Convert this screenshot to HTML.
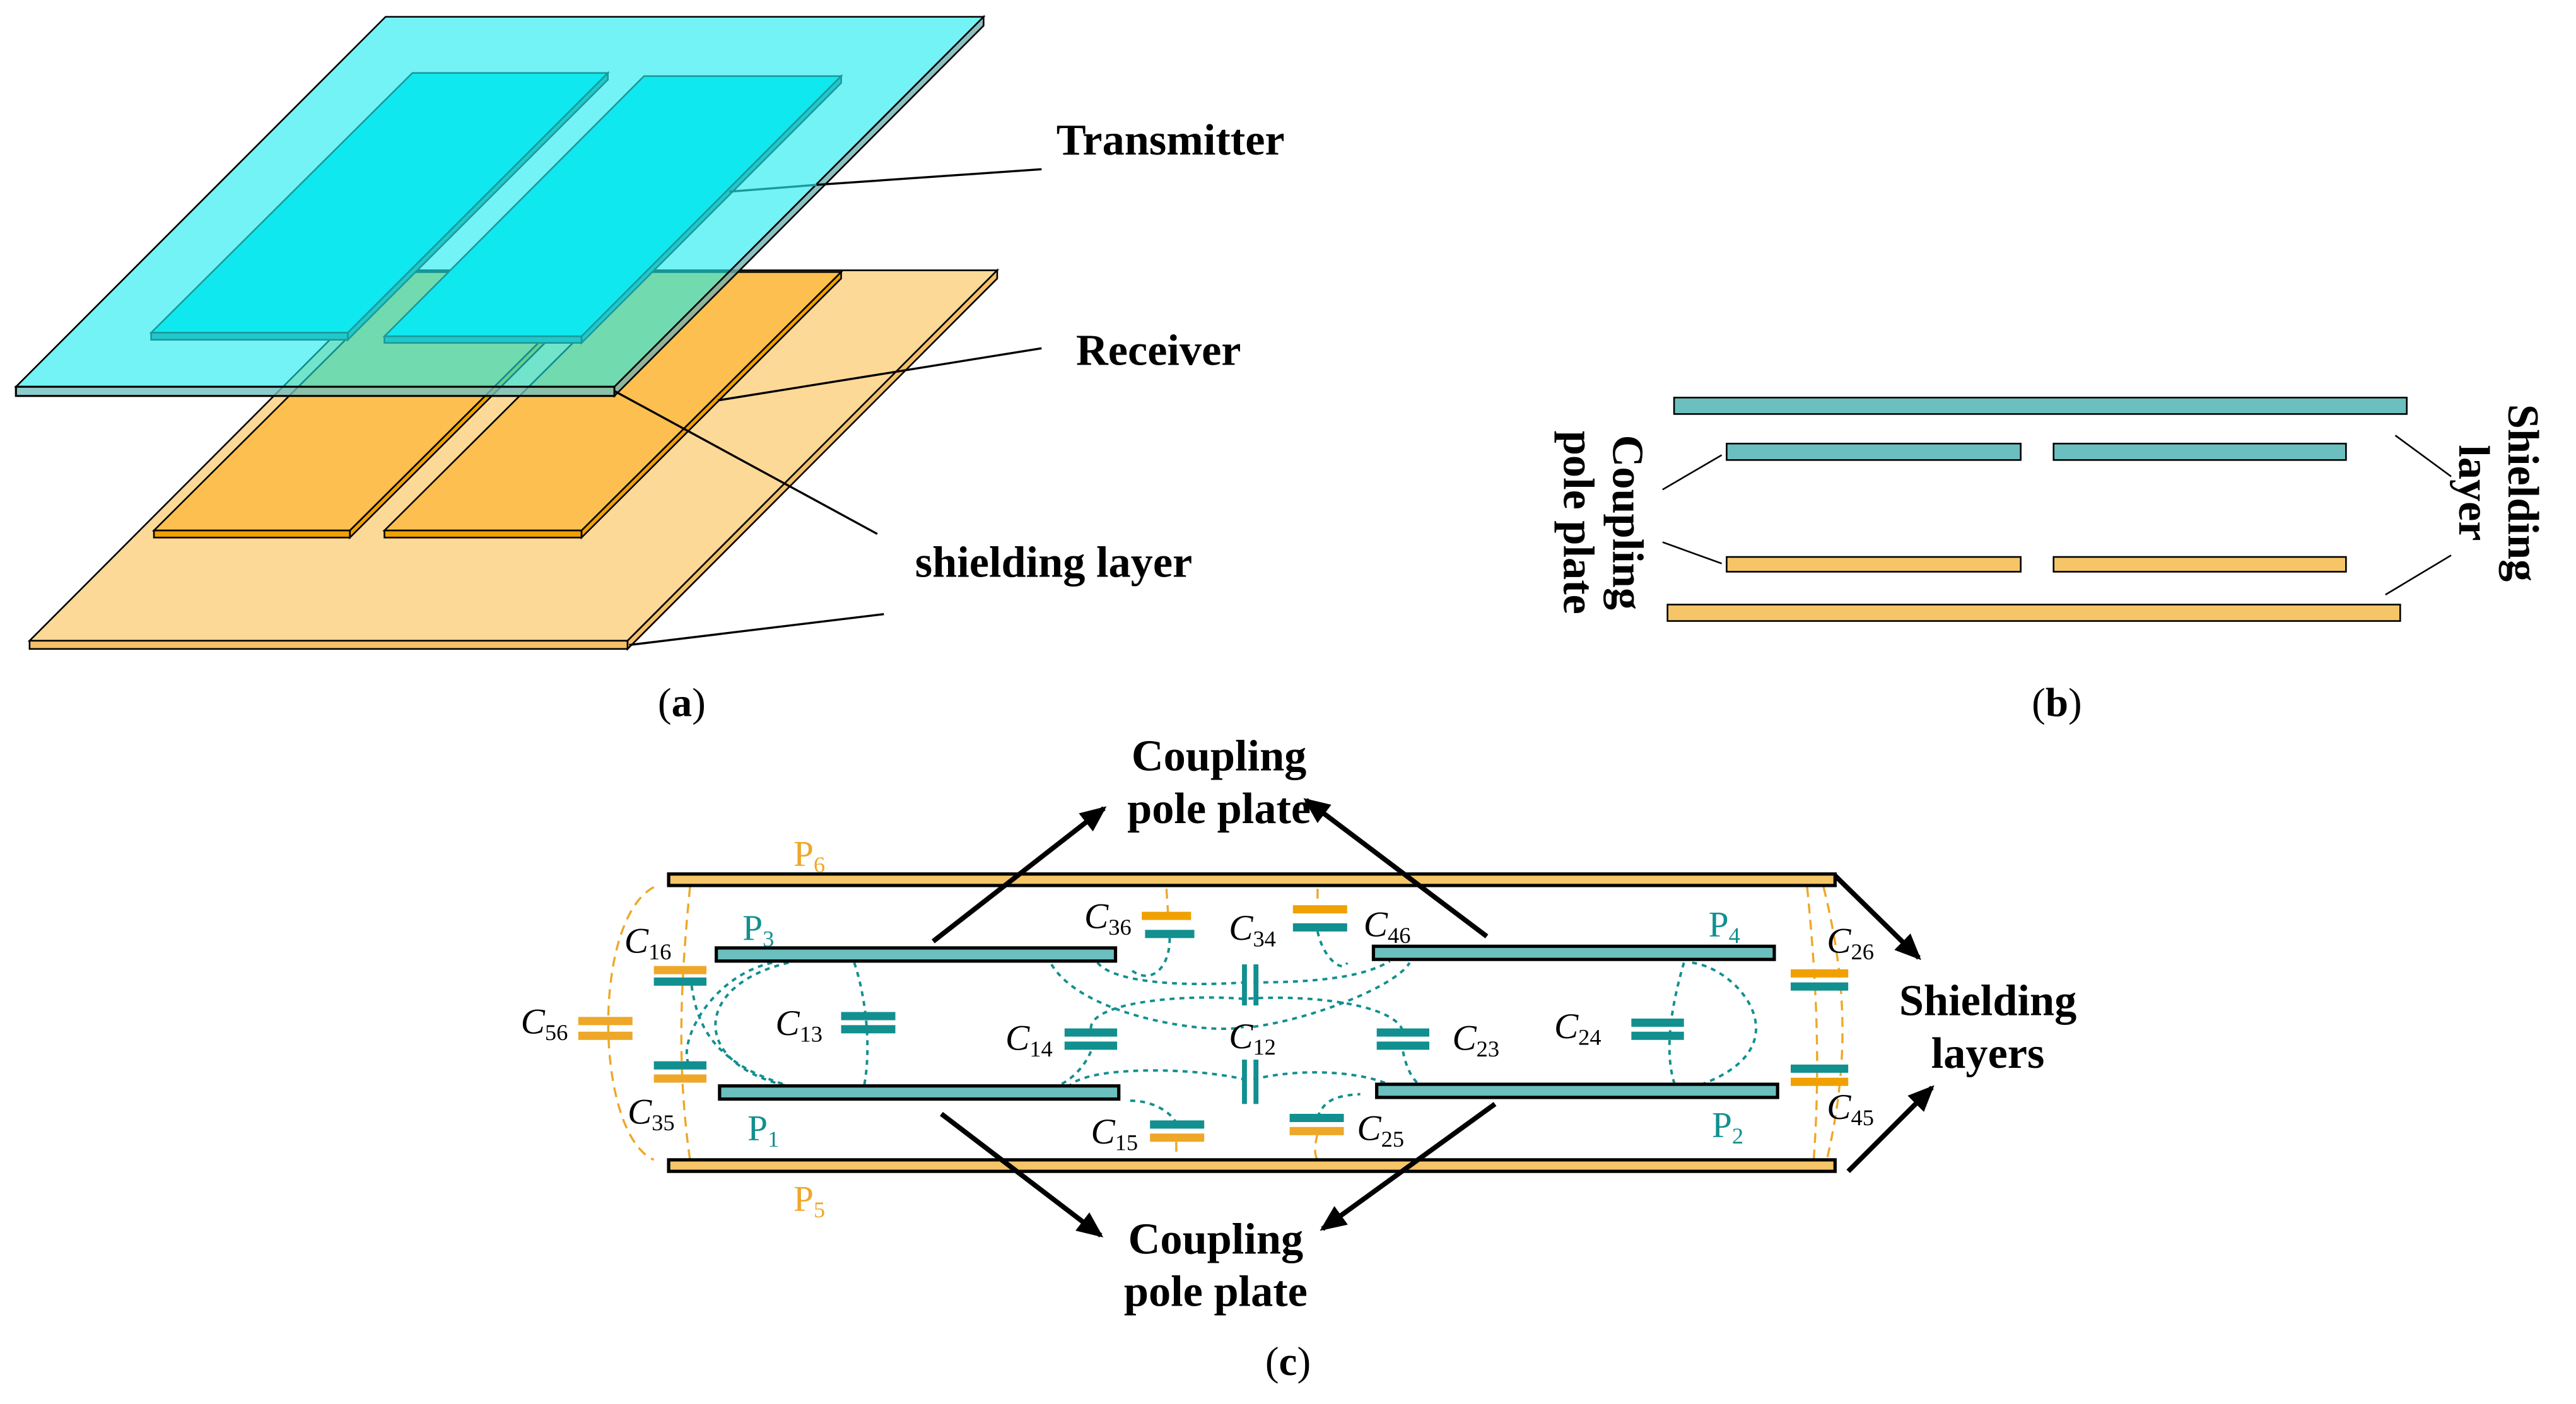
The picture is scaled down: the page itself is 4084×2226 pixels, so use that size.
<!DOCTYPE html>
<html><head><meta charset="utf-8"><style>
html,body{margin:0;padding:0;background:#fff;}
svg{display:block;}
.b{font-family:"Liberation Serif",serif;font-weight:bold;font-size:27px;fill:#000;}
.n{font-family:"Liberation Serif",serif;font-size:25px;fill:#000;}
.c{font-family:"Liberation Serif",serif;font-size:22px;fill:#000;}
.s{font-size:14px;}
</style></head><body>
<svg width="4084" height="2226" viewBox="0 0 1568 854.6" xmlns="http://www.w3.org/2000/svg">
<rect x="0" y="0" width="1568" height="855" fill="#fff"/>
<polygon points="243,164.5 607,164.5 382,390 18,390" fill="#fdd998" stroke="#000" stroke-width="1"/>
<rect x="18" y="390" width="364" height="5" fill="#f5c067" stroke="#000" stroke-width="1"/>
<polygon points="607,164.5 607,169.5 382,395 382,390" fill="#f5c067" stroke="#000" stroke-width="1"/>
<polygon points="251.7,165.6 371,165.6 213,322.9 93.7,322.9" fill="#fdc050" stroke="#000" stroke-width="1"/>
<rect x="93.7" y="322.9" width="119.3" height="4.3" fill="#f0a000" stroke="#000" stroke-width="1"/>
<polygon points="371,165.6 371,169.5 213,327.2 213,322.9" fill="#f0a000" stroke="#000" stroke-width="1"/>
<polygon points="392,165.6 512,165.6 354,322.9 234,322.9" fill="#fdc050" stroke="#000" stroke-width="1"/>
<rect x="234" y="322.9" width="120" height="4.3" fill="#f0a000" stroke="#000" stroke-width="1"/>
<polygon points="512,165.6 512,169.5 354,327.2 354,322.9" fill="#f0a000" stroke="#000" stroke-width="1"/>
<polygon points="234.7,10.2 598.7,10.2 374,235.4 9.7,235.4" fill="rgb(22,235,238)" fill-opacity="0.6" stroke="#000" stroke-width="1"/>
<rect x="9.7" y="235.4" width="364.3" height="5.6" fill="#6fbfbf" fill-opacity="0.8" stroke="#000" stroke-width="1.2"/>
<polygon points="598.7,10.2 598.7,15.6 374,241 374,235.4" fill="#6fb0b0" fill-opacity="0.8" stroke="#000" stroke-width="1"/>
<polygon points="251,44.4 370,44.4 211.7,202.5 92,202.5" fill="#10e8f0" stroke="#1a9a9a" stroke-width="1"/>
<rect x="92" y="202.5" width="119.7" height="4.3" fill="#20c8cc" stroke="#1a9a9a" stroke-width="1"/>
<polygon points="370,44.4 370,48.5 211.7,206.8 211.7,202.5" fill="#20c8cc" stroke="#1a9a9a" stroke-width="1"/>
<polygon points="392,46.3 512,46.3 354,204.7 234,204.7" fill="#10e8f0" stroke="#1a9a9a" stroke-width="1"/>
<rect x="234" y="204.7" width="120" height="4" fill="#20c8cc" stroke="#1a9a9a" stroke-width="1"/>
<polygon points="512,46.3 512,50.5 354,208.7 354,204.7" fill="#20c8cc" stroke="#1a9a9a" stroke-width="1"/>
<line x1="444" y1="116.6" x2="497" y2="112.5" stroke="#1a9a9a" stroke-width="1.3"/>
<line x1="497" y1="112.5" x2="634" y2="103" stroke="#000" stroke-width="1.3"/>
<line x1="437" y1="243.7" x2="634" y2="212" stroke="#000" stroke-width="1.3"/>
<line x1="374" y1="238" x2="534" y2="325" stroke="#000" stroke-width="1.3"/>
<line x1="383" y1="392.6" x2="538" y2="373.8" stroke="#000" stroke-width="1.3"/>
<text class="b" x="643" y="94">Transmitter</text>
<text class="b" x="655" y="222">Receiver</text>
<text class="b" x="557" y="351">shielding layer</text>
<text class="n" x="415" y="436" text-anchor="middle">(<tspan font-weight="bold">a</tspan>)</text>
<g stroke="#000" stroke-width="1">
<rect x="1019" y="242" width="446" height="10" fill="#6bbfbf"/>
<rect x="1051" y="270" width="179" height="10" fill="#6bbfbf"/>
<rect x="1250" y="270" width="178" height="10" fill="#6bbfbf"/>
<rect x="1051" y="339" width="179" height="9" fill="#f5c567"/>
<rect x="1250" y="339" width="178" height="9" fill="#f5c567"/>
<rect x="1015" y="368" width="446" height="10" fill="#f5c567"/>
<line x1="1012" y1="298" x2="1048" y2="277"/>
<line x1="1012" y1="330" x2="1048" y2="343"/>
<line x1="1458" y1="265" x2="1492" y2="290"/>
<line x1="1452" y1="362" x2="1492" y2="338"/>
</g>
<text class="b" transform="translate(982,318) rotate(90)" text-anchor="middle">Coupling</text>
<text class="b" transform="translate(952,318) rotate(90)" text-anchor="middle">pole plate</text>
<text class="b" transform="translate(1527,300) rotate(90)" text-anchor="middle">Shielding</text>
<text class="b" transform="translate(1497,300) rotate(90)" text-anchor="middle">layer</text>
<text class="n" x="1252" y="436" text-anchor="middle">(<tspan font-weight="bold">b</tspan>)</text>
<g fill="none" stroke="#eea728" stroke-width="1.3" stroke-dasharray="6,4">
<path d="M398,540 C360,560 362,690 398,706"/>
<path d="M420,540 C414,600 412,650 420,706"/>
<path d="M1100,540 C1106,600 1108,650 1104,706"/>
<path d="M1110,540 C1125,600 1125,650 1112,706"/>
<path d="M710,541 L711,556"/>
<path d="M802,541 L802,552"/>
<path d="M716,695 L716,706"/>
<path d="M802,690 C800,698 800,703 802,706"/>
</g>
<g fill="none" stroke="#128f8f" stroke-width="1.5" stroke-dasharray="3,3">
<path d="M480,586 C420,600 420,650 484,662"/>
<path d="M421,600 C425,630 440,650 484,662"/>
<path d="M470,586 C430,595 410,640 421,650"/>
<path d="M520,586 C528,610 530,640 526,661"/>
<path d="M712,571 C712,590 700,600 688,590"/>
<path d="M668,586 C680,600 730,600 757,598"/>
<path d="M640,587 C660,620 740,630 757,625"/>
<path d="M763,598 C800,598 830,595 846,585"/>
<path d="M763,625 C800,620 850,600 858,586"/>
<path d="M802,567 C806,585 818,592 820,586"/>
<path d="M664,626 C664,610 720,605 757,608 C800,605 850,612 854,628"/>
<path d="M664,640 C660,650 650,660 640,662"/>
<path d="M650,662 C660,648 730,650 757,657"/>
<path d="M763,657 C800,648 840,655 848,662"/>
<path d="M854,640 C856,650 860,660 870,664"/>
<path d="M688,670 C705,670 715,680 716,684"/>
<path d="M802,680 C806,670 812,667 828,666"/>
<path d="M1025,586 C1018,610 1012,640 1020,662"/>
<path d="M1030,586 C1060,590 1100,640 1030,662"/>
</g>
<g stroke="#000" stroke-width="2">
<rect x="407" y="532" width="710" height="7" fill="#f5c567"/>
<rect x="407" y="706" width="710" height="7" fill="#f5c567"/>
<rect x="436" y="577" width="243" height="8" fill="#6bbfbf"/>
<rect x="836" y="576" width="244" height="8" fill="#6bbfbf"/>
<rect x="438" y="661" width="243" height="8" fill="#6bbfbf"/>
<rect x="838" y="660" width="244" height="8" fill="#6bbfbf"/>
</g>
<g>
<rect x="695" y="555" width="30" height="5" fill="#f0a000"/><rect x="697" y="566" width="30" height="5" fill="#128f8f"/>
<rect x="787" y="551" width="33" height="5" fill="#f0a000"/><rect x="787" y="562" width="33" height="5" fill="#128f8f"/>
<rect x="756" y="587" width="3" height="25" fill="#128f8f"/><rect x="763" y="587" width="3" height="25" fill="#128f8f"/>
<rect x="756" y="645" width="3" height="27" fill="#128f8f"/><rect x="763" y="645" width="3" height="27" fill="#128f8f"/>
<rect x="398" y="588" width="32" height="5" fill="#eea728"/><rect x="398" y="595" width="32" height="5" fill="#128f8f"/>
<rect x="352" y="619" width="33" height="5" fill="#eea728"/><rect x="352" y="628" width="33" height="5" fill="#eea728"/>
<rect x="398" y="646" width="32" height="5" fill="#128f8f"/><rect x="398" y="654" width="32" height="5" fill="#eea728"/>
<rect x="512" y="616" width="33" height="5" fill="#128f8f"/><rect x="512" y="624" width="33" height="5" fill="#128f8f"/>
<rect x="648" y="626" width="32" height="5" fill="#128f8f"/><rect x="648" y="634" width="32" height="5" fill="#128f8f"/>
<rect x="838" y="626" width="32" height="5" fill="#128f8f"/><rect x="838" y="634" width="32" height="5" fill="#128f8f"/>
<rect x="993" y="620" width="32" height="5" fill="#128f8f"/><rect x="993" y="628" width="32" height="5" fill="#128f8f"/>
<rect x="700" y="682" width="33" height="5" fill="#128f8f"/><rect x="700" y="690" width="33" height="5" fill="#eea728"/>
<rect x="785" y="678" width="33" height="5" fill="#128f8f"/><rect x="785" y="686" width="33" height="5" fill="#eea728"/>
<rect x="1090" y="590" width="35" height="5" fill="#f0a000"/><rect x="1090" y="598" width="35" height="5" fill="#128f8f"/>
<rect x="1090" y="648" width="35" height="5" fill="#128f8f"/><rect x="1090" y="656" width="35" height="5" fill="#f0a000"/>
</g>
<g class="c">
<text x="660" y="565" font-style="italic">C<tspan class="s" font-style="normal" dy="4">36</tspan></text>
<text x="830" y="570" font-style="italic">C<tspan class="s" font-style="normal" dy="4">46</tspan></text>
<text x="748" y="572" font-style="italic">C<tspan class="s" font-style="normal" dy="4">34</tspan></text>
<text x="380" y="580" font-style="italic">C<tspan class="s" font-style="normal" dy="4">16</tspan></text>
<text x="317" y="629" font-style="italic">C<tspan class="s" font-style="normal" dy="4">56</tspan></text>
<text x="382" y="684" font-style="italic">C<tspan class="s" font-style="normal" dy="4">35</tspan></text>
<text x="472" y="630" font-style="italic">C<tspan class="s" font-style="normal" dy="4">13</tspan></text>
<text x="612" y="639" font-style="italic">C<tspan class="s" font-style="normal" dy="4">14</tspan></text>
<text x="748" y="638" font-style="italic">C<tspan class="s" font-style="normal" dy="4">12</tspan></text>
<text x="884" y="639" font-style="italic">C<tspan class="s" font-style="normal" dy="4">23</tspan></text>
<text x="946" y="632" font-style="italic">C<tspan class="s" font-style="normal" dy="4">24</tspan></text>
<text x="664" y="696" font-style="italic">C<tspan class="s" font-style="normal" dy="4">15</tspan></text>
<text x="826" y="694" font-style="italic">C<tspan class="s" font-style="normal" dy="4">25</tspan></text>
<text x="1112" y="580" font-style="italic">C<tspan class="s" font-style="normal" dy="4">26</tspan></text>
<text x="1112" y="681" font-style="italic">C<tspan class="s" font-style="normal" dy="4">45</tspan></text>
</g>
<g class="c">
<text x="483" y="527" fill="#eea728">P<tspan class="s" dy="4">6</tspan></text>
<text x="452" y="572" fill="#128f8f">P<tspan class="s" dy="4">3</tspan></text>
<text x="1040" y="570" fill="#128f8f">P<tspan class="s" dy="4">4</tspan></text>
<text x="455" y="694" fill="#128f8f">P<tspan class="s" dy="4">1</tspan></text>
<text x="1042" y="692" fill="#128f8f">P<tspan class="s" dy="4">2</tspan></text>
<text x="483" y="737" fill="#eea728">P<tspan class="s" dy="4">5</tspan></text>
</g>
<defs><marker id="ah2" markerWidth="16" markerHeight="14" refX="14" refY="7" orient="auto" markerUnits="userSpaceOnUse"><path d="M0,0 L16,7 L0,14 z" fill="#000"/></marker></defs>
<g stroke="#000" stroke-width="3" marker-end="url(#ah2)">
<line x1="568" y1="573" x2="672" y2="492"/>
<line x1="905" y1="570" x2="795" y2="487"/>
<line x1="573" y1="678" x2="670" y2="752"/>
<line x1="910" y1="672" x2="805" y2="748"/>
<line x1="1117" y1="533" x2="1168" y2="583"/>
<line x1="1125" y1="713" x2="1176" y2="662"/>
</g>
<text class="b" x="742" y="469" text-anchor="middle">Coupling</text>
<text class="b" x="742" y="501" text-anchor="middle">pole plate</text>
<text class="b" x="740" y="763" text-anchor="middle">Coupling</text>
<text class="b" x="740" y="795" text-anchor="middle">pole plate</text>
<text class="b" x="1210" y="618" text-anchor="middle">Shielding</text>
<text class="b" x="1210" y="650" text-anchor="middle">layers</text>
<text class="n" x="784" y="837" text-anchor="middle">(<tspan font-weight="bold">c</tspan>)</text>
</svg>
</body></html>
